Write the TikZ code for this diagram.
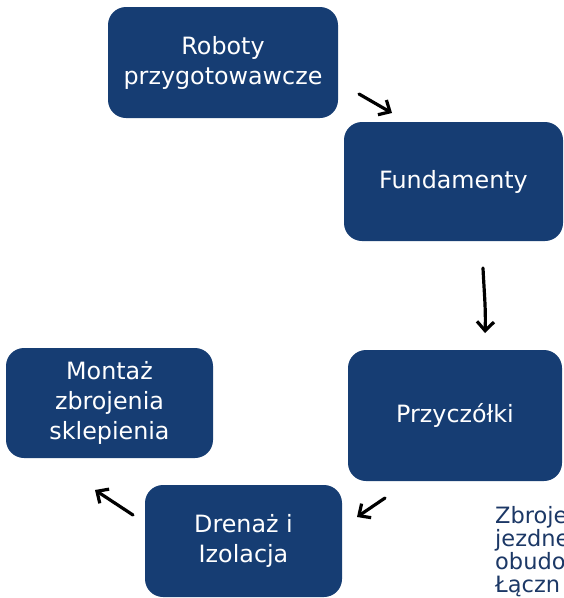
\documentclass[tikz,border=0pt]{standalone}
\usepackage{fontspec}
\setmainfont{DejaVu Sans}
\usetikzlibrary{arrows.meta}
\definecolor{boxblue}{RGB}{22,61,115}
\definecolor{txtblue}{RGB}{28,56,102}
\tikzset{
  stepbox/.style={fill=boxblue, draw=none, rounded corners=18pt, text=white,
    align=center, inner sep=0pt, font=\fontsize{23.8}{30}\selectfont},
  handarrow/.style={draw=black, line width=3.2pt, line cap=round,
    -{Straight Barb[length=9pt,width=17pt,line width=3.2pt]}},
}
\begin{document}
\begin{tikzpicture}[x=1pt,y=-1pt]
\useasboundingbox (0,0) rectangle (564,598);
\clip (0,0) rectangle (564,598);
\node[stepbox, minimum width=230pt, minimum height=111pt] (rob) at (223,62.5) {Roboty\\przygotowawcze};
\node[stepbox, minimum width=219pt, minimum height=119pt] (fun) at (453.5,181.5) {Fundamenty};
\node[stepbox, minimum width=214pt, minimum height=131pt] (prz) at (455,415.5) {Przyczółki};
\node[stepbox, minimum width=207pt, minimum height=110pt] (mon) at (109.5,403) {Montaż\\zbrojenia\\sklepienia};
\node[stepbox, minimum width=197pt, minimum height=112pt] (dre) at (243.5,541) {Drenaż i\\Izolacja};
\node[anchor=north west, align=left, inner sep=0pt, text=txtblue,
  font=\fontsize{22.5}{23}\selectfont] (zbr) at (495,506) {Zbroje\\jezdne\\obudo\\Łączn};
\coordinate (a1s) at (359,94);
\coordinate (a1e) at (392,113);
\coordinate (a2s) at (483,268);
\coordinate (a2e) at (485,333);
\coordinate (a3s) at (385,498);
\coordinate (a3e) at (357,517);
\coordinate (a4s) at (133,515);
\coordinate (a4e) at (95,490);
\draw[handarrow] (a1s) -- (a1e);
\draw[handarrow] (a2s) .. controls (484,290) and (486,310) .. (a2e);
\draw[handarrow] (a3s) -- (a3e);
\draw[handarrow] (a4s) -- (a4e);
\end{tikzpicture}
\end{document}
